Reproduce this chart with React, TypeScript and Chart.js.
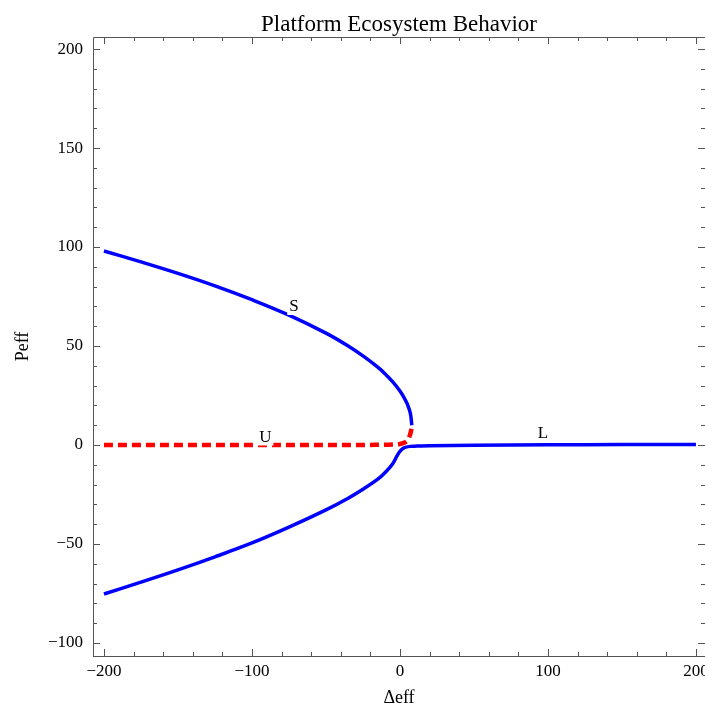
import React, { useEffect, useRef } from "react";
import { Chart, registerables } from "chart.js";

Chart.register(...registerables);

const TITLE = "Platform Ecosystem Behavior";
const X_TITLE = "Δeff";
const Y_TITLE = "Peff";

const X_MIN = -207.4;
const X_MAX = 206.1;
const Y_MIN = -106.6;
const Y_MAX = 206.1;

const xMajorTicks = [-200, -100, 0, 100, 200];
const xMinorStep = 20;
const yMajorTicks = [-100, -50, 0, 50, 100, 150, 200];
const yMinorStep = 10;

// Upper stable branch "S"
const sX = [-200, -175, -150, -125, -100, -75, -50, -35, -25, -15, -10, -5, 0, 3, 5, 7, 8];
const sY = [98, 92.5, 86.7, 80.4, 73.4, 65.6, 56.5, 50.0, 45.0, 39.3, 35.9, 32.0, 27.3, 23.6, 20.6, 16.1, 10];

// Unstable branch "U" (dashed)
const uX = [-200, -150, -100, -50, -20, -5, 0, 3, 5, 6.5, 7.5, 8];
const uY = [0, 0, 0, 0, 0.05, 0.2, 0.5, 1.2, 2.3, 4.5, 7.2, 10];

// Lower branch joining the "L" branch
const lX = [-200, -175, -150, -125, -100, -75, -50, -35, -25, -15, -10, -5, -2, 0, 2, 4, 7, 10, 20, 50, 100, 150, 200];
const lY = [-75.3, -69.3, -63.1, -56.5, -49.5, -41.5, -32.8, -26.9, -22.4, -17.3, -13.9, -9.6, -5.5, -3.2, -1.8, -1.1, -0.7, -0.6, -0.4, -0.1, 0.1, 0.2, 0.3];

const curveLabels = [
  { text: "S", x: -71.6, y: 70.2 },
  { text: "U", x: -91, y: 4.3 },
  { text: "L", x: 96.6, y: 6.3 },
];

const SERIF = "'Liberation Serif', 'Times New Roman', serif";

const fmt = (v: number) => (v < 0 ? "\u2212" + Math.abs(v) : String(v));

const zip = (xs: number[], ys: number[]) => xs.map((x, i) => ({ x, y: ys[i] }));

const range = (a: number, b: number, step: number) => {
  const out: number[] = [];
  for (let v = a; v <= b + 1e-9; v += step) out.push(Math.round(v * 1000) / 1000);
  return out;
};

const framePlugin = {
  id: "mmaFrame",
  afterDatasetsDraw(chart: any) {
    const { ctx, chartArea: a, scales } = chart;
    const xs = scales.x;
    const ys = scales.y;
    ctx.save();
    // curve labels with white background
    ctx.font = `17px ${SERIF}`;
    ctx.textAlign = "center";
    ctx.textBaseline = "middle";
    for (const l of curveLabels) {
      const px = xs.getPixelForValue(l.x);
      const py = ys.getPixelForValue(l.y);
      const w = ctx.measureText(l.text).width;
      ctx.fillStyle = "#ffffff";
      ctx.fillRect(px - w / 2 - 2, py - 8, w + 4, 17);
      ctx.fillStyle = "#000000";
      ctx.fillText(l.text, px, py + 1);
    }
    // frame
    ctx.strokeStyle = "#555555";
    ctx.lineWidth = 1;
    ctx.beginPath();
    ctx.moveTo(a.left + 0.5, a.bottom + 0.5);
    ctx.lineTo(a.left + 0.5, a.top + 0.5);
    ctx.lineTo(a.right, a.top + 0.5);
    ctx.moveTo(a.left, a.bottom + 0.5);
    ctx.lineTo(a.right, a.bottom + 0.5);
    ctx.stroke();
    // ticks
    ctx.beginPath();
    for (const t of xs.ticks) {
      const px = Math.round(xs.getPixelForValue(t.value)) + 0.5;
      const len = xMajorTicks.includes(t.value) ? 7 : 4;
      ctx.moveTo(px, a.bottom);
      ctx.lineTo(px, a.bottom - len);
      ctx.moveTo(px, a.top);
      ctx.lineTo(px, a.top + len);
    }
    for (const t of ys.ticks) {
      const py = Math.round(ys.getPixelForValue(t.value)) + 0.5;
      const len = yMajorTicks.includes(t.value) ? 7 : 4;
      ctx.moveTo(a.left, py);
      ctx.lineTo(a.left + len, py);
      ctx.moveTo(a.right, py);
      ctx.lineTo(a.right - len, py);
    }
    ctx.stroke();
    // title
    ctx.fillStyle = "#000000";
    ctx.font = `23px ${SERIF}`;
    ctx.textAlign = "center";
    ctx.textBaseline = "alphabetic";
    ctx.fillText(TITLE, (a.left + a.right) / 2, 31);
    ctx.restore();
  },
};

export default function App() {
  const ref = useRef<HTMLCanvasElement | null>(null);

  useEffect(() => {
    document.body.style.margin = "0";
    document.body.style.overflow = "hidden";
    const canvas = ref.current;
    if (!canvas) return;
    const chart = new Chart(canvas, {
      type: "scatter",
      data: {
        datasets: [
          {
            label: "S",
            data: zip(sX, sY),
            showLine: true,
            borderColor: "#0000ff",
            borderWidth: 3.5,
            pointRadius: 0,
            tension: 0.4,
          },
          {
            label: "L",
            data: zip(lX, lY),
            showLine: true,
            borderColor: "#0000ff",
            borderWidth: 3.5,
            pointRadius: 0,
            tension: 0.35,
          },
          {
            label: "U",
            data: zip(uX, uY),
            showLine: true,
            borderColor: "#ff0000",
            borderWidth: 4.5,
            borderDash: [9, 5],
            pointRadius: 0,
            cubicInterpolationMode: "monotone",
          },
        ],
      } as any,
      options: {
        animation: false,
        responsive: false,
        layout: { padding: { top: 37, left: 0, right: 0, bottom: 0 } },
        plugins: {
          legend: { display: false },
          tooltip: { enabled: false },
          title: { display: false },
        },
        scales: {
          x: {
            type: "linear",
            min: X_MIN,
            max: X_MAX,
            grid: { display: false, drawTicks: false },
            border: { display: false },
            afterBuildTicks: (s: any) => {
              s.ticks = range(xMajorTicks[0], xMajorTicks[xMajorTicks.length - 1], xMinorStep).map((v) => ({ value: v }));
            },
            afterFit: (s: any) => {
              s.height = 55;
              s.paddingLeft = 0;
              s.paddingRight = 0;
            },
            ticks: {
              autoSkip: false,
              maxRotation: 0,
              padding: 5,
              color: "#000000",
              font: { family: SERIF, size: 17 },
              callback: (v: any) => (xMajorTicks.includes(Number(v)) ? fmt(Number(v)) : ""),
            },
            title: {
              display: true,
              text: X_TITLE,
              color: "#000000",
              font: { family: SERIF, size: 18 },
              padding: { top: 0, bottom: 2 },
            },
          },
          y: {
            type: "linear",
            min: Y_MIN,
            max: Y_MAX,
            grid: { display: false, drawTicks: false },
            border: { display: false },
            afterBuildTicks: (s: any) => {
              s.ticks = range(yMajorTicks[0], yMajorTicks[yMajorTicks.length - 1], yMinorStep).map((v) => ({ value: v }));
            },
            afterFit: (s: any) => {
              s.width = 93;
              s.paddingTop = 0;
              s.paddingBottom = 0;
            },
            ticks: {
              autoSkip: false,
              padding: 10,
              color: "#000000",
              font: { family: SERIF, size: 17 },
              callback: (v: any) => (yMajorTicks.includes(Number(v)) ? fmt(Number(v)) : ""),
            },
            title: {
              display: true,
              text: Y_TITLE,
              color: "#000000",
              font: { family: SERIF, size: 18 },
              padding: { top: 12, bottom: 0 },
            },
          },
        },
      } as any,
      plugins: [framePlugin],
    });
    return () => chart.destroy();
  }, []);

  return (
    <div style={{ width: 705, height: 711, background: "#ffffff" }}>
      <canvas ref={ref} width={705} height={711} style={{ display: "block" }} />
    </div>
  );
}
